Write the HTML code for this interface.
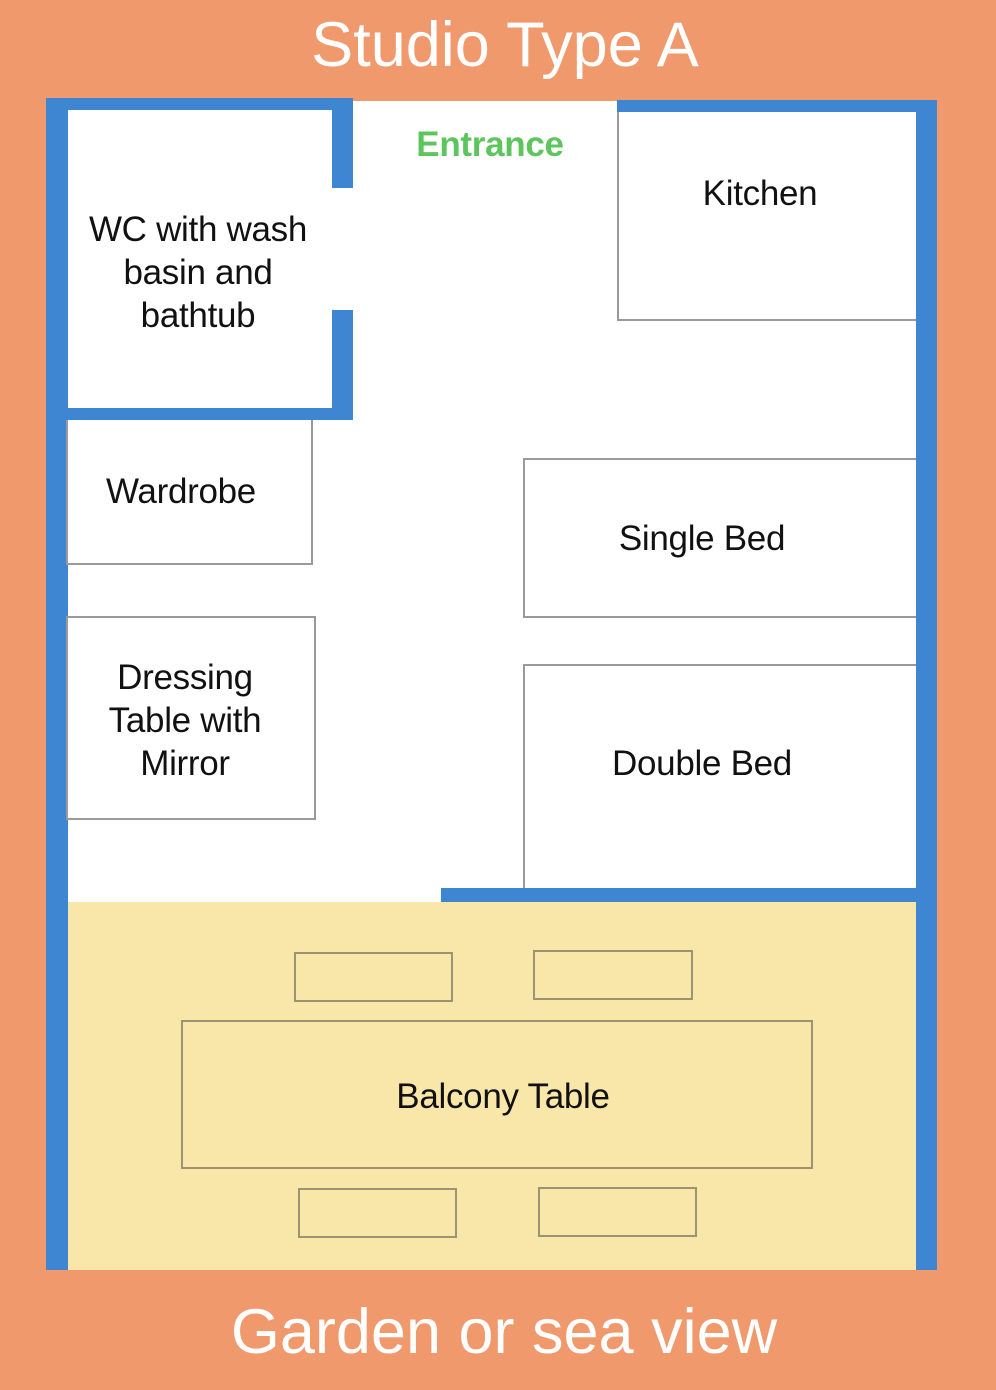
<!DOCTYPE html>
<html><head><meta charset="utf-8"><style>
body{margin:0;width:996px;height:1390px;background:#F0996C;position:relative;overflow:hidden;font-family:"Liberation Sans",sans-serif}
div{position:absolute;box-sizing:border-box}
.b{background:#3E86D1}
.f{border:2px solid #9a9a9a;background:#fff}
.c{border:2px solid #9c9373;background:#F9E7A9}
.l{font-size:35px;line-height:43px;color:#111;text-align:center;width:400px;transform:translateX(-50%);letter-spacing:-0.3px}
.t{color:#fff;text-align:center;width:996px}
</style></head><body>
<div class="t" style="top:10px;font-size:63px;line-height:70px;left:7px">Studio Type A</div>
<div style="left:68px;top:101px;width:848px;height:801px;background:#fff"></div>
<div style="left:68px;top:902px;width:848px;height:368px;background:#F9E7A9"></div>
<div class="b" style="left:46px;top:98px;width:22px;height:1172px"></div>
<div class="b" style="left:46px;top:98px;width:307px;height:12px"></div>
<div class="b" style="left:332px;top:98px;width:21px;height:90px"></div>
<div class="b" style="left:332px;top:310px;width:21px;height:110px"></div>
<div class="b" style="left:46px;top:408px;width:307px;height:12px"></div>
<div class="b" style="left:617px;top:100px;width:320px;height:12px"></div>
<div class="b" style="left:916px;top:100px;width:21px;height:1170px"></div>
<div class="b" style="left:441px;top:888px;width:496px;height:14px"></div>
<div class="f" style="left:617px;top:112px;width:299px;height:209px;border-right:none;border-top:none"></div>
<div class="f" style="left:66px;top:420px;width:247px;height:145px;border-top:none"></div>
<div class="f" style="left:66px;top:616px;width:250px;height:204px"></div>
<div class="f" style="left:523px;top:458px;width:393px;height:160px;border-right:none"></div>
<div class="f" style="left:523px;top:664px;width:393px;height:224px;border-right:none;border-bottom:none"></div>
<div class="c" style="left:294px;top:952px;width:159px;height:50px"></div>
<div class="c" style="left:533px;top:950px;width:160px;height:50px"></div>
<div class="c" style="left:298px;top:1188px;width:159px;height:50px"></div>
<div class="c" style="left:538px;top:1187px;width:159px;height:50px"></div>
<div class="c" style="left:181px;top:1020px;width:632px;height:149px"></div>
<div class="l" style="left:198px;top:208px">WC with wash<br>basin and<br>bathtub</div>
<div class="l" style="left:490px;top:123px;font-size:35px;font-weight:bold;color:#5CC55C">Entrance</div>
<div class="l" style="left:760px;top:172px">Kitchen</div>
<div class="l" style="left:181px;top:470px">Wardrobe</div>
<div class="l" style="left:185px;top:656px">Dressing<br>Table with<br>Mirror</div>
<div class="l" style="left:702px;top:517px">Single Bed</div>
<div class="l" style="left:702px;top:742px">Double Bed</div>
<div class="l" style="left:503px;top:1075px">Balcony Table</div>
<div class="t" style="top:1296px;font-size:63px;line-height:72px;left:6px">Garden or sea view</div>
</body></html>
